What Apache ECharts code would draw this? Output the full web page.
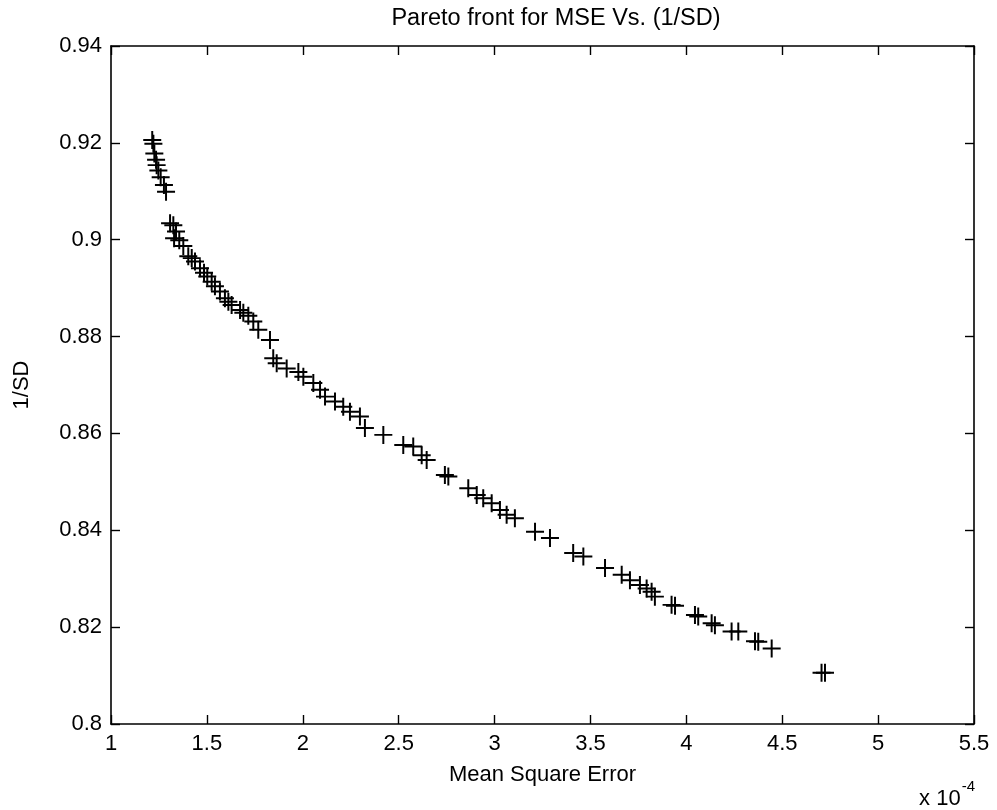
<!DOCTYPE html>
<html>
<head>
<meta charset="utf-8">
<script src="https://cdn.jsdelivr.net/npm/echarts@6/dist/echarts.min.js"></script>
<style>
html,body{margin:0;padding:0;background:#fff;}
#chart{width:997px;height:810px;}
</style>
</head>
<body>
<div id="chart"></div>
<script>
// Mean square error, in units of 1e-4
var mseE4 = [
1.215,1.221,1.226,1.235,1.238,1.247,1.259,1.276,1.287,
1.308,1.325,1.339,1.329,1.356,1.377,1.403,1.421,1.438,1.464,1.485,1.502,1.525,1.542,
1.568,1.594,1.612,1.629,1.673,1.690,1.716,1.742,1.768,1.829,1.846,1.864,1.916,1.977,
2.003,2.055,2.090,2.116,2.168,2.211,2.246,2.298,2.324,2.420,2.524,2.576,2.620,2.646,
2.741,2.759,2.863,2.907,2.941,2.985,3.028,3.063,3.106,3.211,3.289,3.410,3.463,3.576,
3.663,3.706,3.758,3.793,3.819,3.836,3.923,3.941,4.045,4.062,4.132,4.149,4.236,4.271,
4.358,4.375,4.445,4.705,4.723
];
// 1/SD
var invSD = [
0.9206,0.9198,0.9178,0.9165,0.9154,0.9143,0.9129,0.9113,0.9099,
0.9034,0.9030,0.9017,0.9003,0.8999,0.8987,0.8966,0.8962,0.8955,0.8941,0.8932,0.8924,0.8913,0.8904,
0.8893,0.8879,0.8872,0.8865,0.8855,0.8849,0.8843,0.8831,0.8814,0.8793,0.8755,0.8745,0.8734,0.8727,
0.8717,0.8704,0.8690,0.8676,0.8666,0.8655,0.8645,0.8635,0.8611,0.8597,0.8576,0.8573,0.8555,0.8545,
0.8514,0.8511,0.8487,0.8473,0.8466,0.8456,0.8442,0.8432,0.8425,0.8397,0.8384,0.8353,0.8346,0.8322,
0.8308,0.8297,0.8287,0.8280,0.8273,0.8263,0.8246,0.8244,0.8225,0.8222,0.8208,0.8204,0.8191,0.8191,
0.8171,0.8170,0.8156,0.8106,0.8106
];
var titleText = 'Pareto front for MSE Vs. (1/SD)';
var xName = 'Mean Square Error';
var yName = '1/SD';

var pts = mseE4.map(function(x,i){return [x, invSD[i]];});
var FONT = '"Liberation Sans", Arial, Helvetica, sans-serif';
var chart = echarts.init(document.getElementById('chart'), null, {renderer:'canvas'});

function boxAxis(extra){
  var base = {
    axisLine:{show:true, onZero:false, lineStyle:{color:'#000', width:1.6}},
    axisTick:{show:true, inside:true, length:9, lineStyle:{color:'#000', width:1.4}},
    splitLine:{show:false},
    axisLabel:{show:false}
  };
  for (var k in extra) base[k] = extra[k];
  return base;
}

chart.setOption({
  backgroundColor:'#fff',
  animation:false,
  title:{
    text:titleText, left:551, textAlign:'center', top:2,
    textStyle:{fontFamily:FONT, fontSize:23.5, fontWeight:'normal', color:'#000'}
  },
  grid:{left:111, right:23, top:46, bottom:86, containLabel:false},
  xAxis:[
    boxAxis({type:'value', position:'bottom', min:1, max:5.5, interval:0.5,
      name:xName, nameLocation:'middle', nameGap:40,
      nameTextStyle:{fontFamily:FONT, fontSize:22, color:'#000'},
      axisLabel:{show:true, margin:9, color:'#000', fontFamily:FONT, fontSize:22,
        formatter:function(v){return String(+v.toFixed(1));}}}),
    boxAxis({type:'value', position:'top', min:1, max:5.5, interval:0.5})
  ],
  yAxis:[
    boxAxis({type:'value', position:'left', min:0.8, max:0.94, interval:0.02,
      name:yName, nameLocation:'middle', nameGap:78,
      nameTextStyle:{fontFamily:FONT, fontSize:22, color:'#000'},
      axisLabel:{show:true, margin:9, color:'#000', fontFamily:FONT, fontSize:22,
        formatter:function(v){return String(+v.toFixed(2));}}}),
    boxAxis({type:'value', position:'right', min:0.8, max:0.94, interval:0.02})
  ],
  graphic:[{
    type:'text', right:22, top:779,
    style:{
      text:'{b|x 10}{s|-4}',
      rich:{
        b:{fontFamily:FONT, fontSize:22, fill:'#000', verticalAlign:'bottom', padding:[9,0,0,0]},
        s:{fontFamily:FONT, fontSize:15, fill:'#000', verticalAlign:'top', padding:[0,0,11,1]}
      }
    }
  }],
  series:[{
    type:'scatter', xAxisIndex:0, yAxisIndex:0,
    data:pts,
    symbol:'path://M0,8.9H20V11.1H0ZM8.9,0H11.1V20H8.9Z',
    symbolSize:18,
    itemStyle:{color:'#000', opacity:1},
    emphasis:{disabled:true}
  }]
});
</script>
</body>
</html>
